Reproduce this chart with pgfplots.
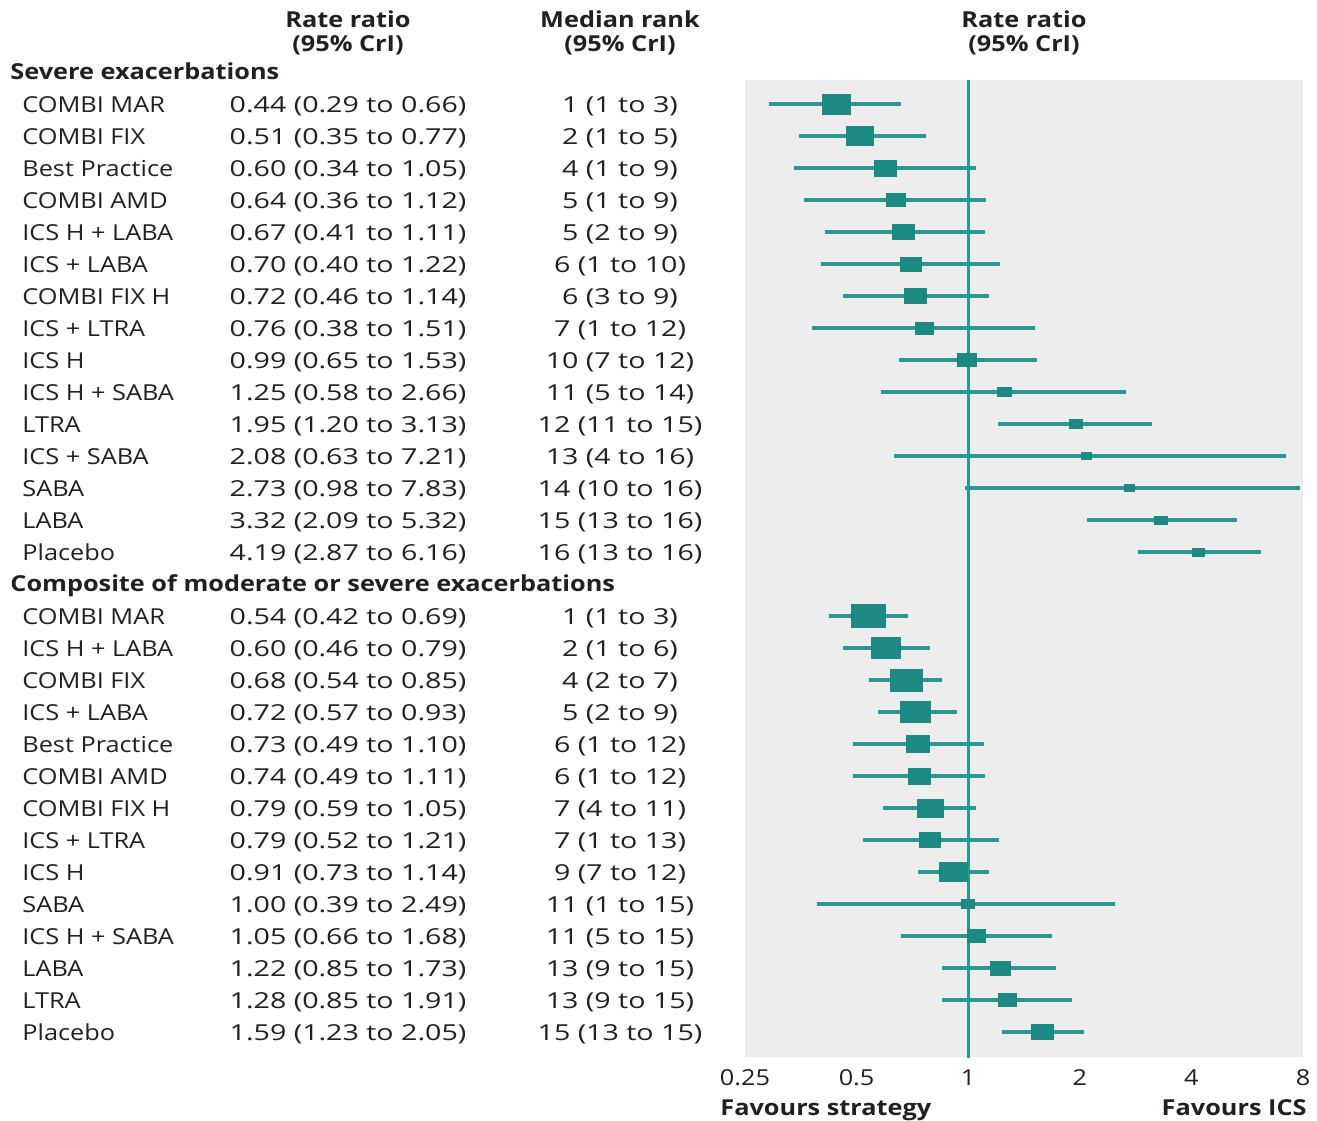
\documentclass[border=0pt]{standalone}
\usepackage{pgfplots}
\pgfplotsset{compat=1.18}
\usepackage{pgfplotstable}
\usepackage{fontspec}
\setmainfont{Open Sans}[FakeStretch=1.15]
\newfontfamily\numfont{Open Sans}[FakeStretch=1.3]
\definecolor{boxc}{HTML}{1C8983}
\definecolor{linec}{HTML}{2A9790}
\definecolor{panel}{HTML}{EDEDED}
\definecolor{txt}{HTML}{231F20}

% y (px, negative), estimate, box width and height (px)
\pgfplotstableread{
y est w h
-104 0.44 28 20
-136 0.51 27 19
-168 0.60 22 16
-200 0.64 19 13
-232 0.67 22 15
-264 0.70 21 14
-296 0.72 22 15
-328 0.76 18 12
-360 0.99 19 13
-392 1.25 14 9
-424 1.95 13 9
-456 2.08 10 7
-488 2.73 10 7
-520 3.32 13 8
-552 4.19 12 8
-616 0.54 34 23
-648 0.60 29 21
-680 0.68 32 22
-712 0.72 30 21
-744 0.73 23 17
-776 0.74 22 16
-808 0.79 26 18
-840 0.79 21 15
-872 0.91 28 19
-904 1.00 13 9
-936 1.05 18 13
-968 1.22 20 14
-1000 1.28 18 13
-1032 1.59 22 15
}\boxdata

\begin{document}
\begin{tikzpicture}[font=\fontsize{11}{13}\selectfont, text=txt]
\begin{scope}[x=0.5pt,y=-0.5pt]
\path[use as bounding box] (0,0) rectangle (1317,1120);
\end{scope}
\begin{axis}[
  at={(372.5pt,-528.5pt)}, anchor=south west,
  scale only axis, width=279pt, height=488.5pt,
  xmode=log, log basis x=2, xmin=0.25, xmax=8,
  ymin=-1057, ymax=-80,
  axis background/.style={fill=panel},
  axis line style={draw=none},
  ytick=\empty,
  xtick={0.25,0.5,1,2,4,8},
  xticklabels={0.25,0.5,1,2,4,8},
  major tick length=0pt,
  xticklabel style={anchor=base, inner sep=0pt, yshift=-14pt, font=\fontsize{11}{13}\selectfont, text=txt},
  /pgf/number format/assume math mode=true,
  clip=false,
]
\addplot[linec, line width=1.5pt] coordinates {(1,-80) (1,-1058)};
\addplot[linec, line width=1.6pt, unbounded coords=jump] coordinates {
(0.29,-104) (0.66,-104) (nan,nan)
(0.35,-136) (0.77,-136) (nan,nan)
(0.34,-168) (1.05,-168) (nan,nan)
(0.36,-200) (1.12,-200) (nan,nan)
(0.41,-232) (1.11,-232) (nan,nan)
(0.40,-264) (1.22,-264) (nan,nan)
(0.46,-296) (1.14,-296) (nan,nan)
(0.38,-328) (1.51,-328) (nan,nan)
(0.65,-360) (1.53,-360) (nan,nan)
(0.58,-392) (2.66,-392) (nan,nan)
(1.20,-424) (3.13,-424) (nan,nan)
(0.63,-456) (7.21,-456) (nan,nan)
(0.98,-488) (7.83,-488) (nan,nan)
(2.09,-520) (5.32,-520) (nan,nan)
(2.87,-552) (6.16,-552) (nan,nan)
(0.42,-616) (0.69,-616) (nan,nan)
(0.46,-648) (0.79,-648) (nan,nan)
(0.54,-680) (0.85,-680) (nan,nan)
(0.57,-712) (0.93,-712) (nan,nan)
(0.49,-744) (1.10,-744) (nan,nan)
(0.49,-776) (1.11,-776) (nan,nan)
(0.59,-808) (1.05,-808) (nan,nan)
(0.52,-840) (1.21,-840) (nan,nan)
(0.73,-872) (1.14,-872) (nan,nan)
(0.39,-904) (2.49,-904) (nan,nan)
(0.66,-936) (1.68,-936) (nan,nan)
(0.85,-968) (1.73,-968) (nan,nan)
(0.85,-1000) (1.91,-1000) (nan,nan)
(1.23,-1032) (2.05,-1032)
};
\addplot[scatter, only marks, mark=square*,
  scatter/use mapped color={draw=boxc,fill=boxc},
  mark options={line width=0pt},
  visualization depends on={\thisrow{h}/4 \as \msize},
  visualization depends on={\thisrow{w}/\thisrow{h} \as \mratio},
  scatter/@pre marker code/.append style={/tikz/mark size=\msize, /tikz/xscale=\mratio},
] table[x=est, y=y] \boxdata;
\end{axis}
\begin{scope}[x=0.5pt,y=-0.5pt]
\node[anchor=base, inner sep=0pt, font=\fontsize{11}{13}\selectfont\bfseries] at (348,27) {Rate ratio};
\node[anchor=base, inner sep=0pt, font=\fontsize{11}{13}\selectfont\bfseries] at (348,51) {(95\% CrI)};
\node[anchor=base, inner sep=0pt, font=\fontsize{11}{13}\selectfont\bfseries] at (620,27) {Median rank};
\node[anchor=base, inner sep=0pt, font=\fontsize{11}{13}\selectfont\bfseries] at (620,51) {(95\% CrI)};
\node[anchor=base, inner sep=0pt, font=\fontsize{11}{13}\selectfont\bfseries] at (1024,27) {Rate ratio};
\node[anchor=base, inner sep=0pt, font=\fontsize{11}{13}\selectfont\bfseries] at (1024,51) {(95\% CrI)};
\node[anchor=base west, inner sep=0pt, font=\fontsize{11}{13}\selectfont\bfseries] at (10,79) {Severe exacerbations};
\node[anchor=base west, inner sep=0pt, font=\fontsize{11}{13}\selectfont\bfseries] at (10,591) {Composite of moderate or severe exacerbations};
\node[anchor=base west, inner sep=0pt, font=\fontsize{11}{13}\selectfont\bfseries] at (720,1115) {Favours strategy};
\node[anchor=base east, inner sep=0pt, font=\fontsize{11}{13}\selectfont\bfseries] at (1307,1115) {Favours ICS};
\foreach \yy/\nm/\rr/\rk in {
104/COMBI MAR/0.44 (0.29 to 0.66)/1 (1 to 3),
136/COMBI FIX/0.51 (0.35 to 0.77)/2 (1 to 5),
168/Best Practice/0.60 (0.34 to 1.05)/4 (1 to 9),
200/COMBI AMD/0.64 (0.36 to 1.12)/5 (1 to 9),
232/ICS H + LABA/0.67 (0.41 to 1.11)/5 (2 to 9),
264/ICS + LABA/0.70 (0.40 to 1.22)/6 (1 to 10),
296/COMBI FIX H/0.72 (0.46 to 1.14)/6 (3 to 9),
328/ICS + LTRA/0.76 (0.38 to 1.51)/7 (1 to 12),
360/ICS H/0.99 (0.65 to 1.53)/10 (7 to 12),
392/ICS H + SABA/1.25 (0.58 to 2.66)/11 (5 to 14),
424/LTRA/1.95 (1.20 to 3.13)/12 (11 to 15),
456/ICS + SABA/2.08 (0.63 to 7.21)/13 (4 to 16),
488/SABA/2.73 (0.98 to 7.83)/14 (10 to 16),
520/LABA/3.32 (2.09 to 5.32)/15 (13 to 16),
552/Placebo/4.19 (2.87 to 6.16)/16 (13 to 16),
616/COMBI MAR/0.54 (0.42 to 0.69)/1 (1 to 3),
648/ICS H + LABA/0.60 (0.46 to 0.79)/2 (1 to 6),
680/COMBI FIX/0.68 (0.54 to 0.85)/4 (2 to 7),
712/ICS + LABA/0.72 (0.57 to 0.93)/5 (2 to 9),
744/Best Practice/0.73 (0.49 to 1.10)/6 (1 to 12),
776/COMBI AMD/0.74 (0.49 to 1.11)/6 (1 to 12),
808/COMBI FIX H/0.79 (0.59 to 1.05)/7 (4 to 11),
840/ICS + LTRA/0.79 (0.52 to 1.21)/7 (1 to 13),
872/ICS H/0.91 (0.73 to 1.14)/9 (7 to 12),
904/SABA/1.00 (0.39 to 2.49)/11 (1 to 15),
936/ICS H + SABA/1.05 (0.66 to 1.68)/11 (5 to 15),
968/LABA/1.22 (0.85 to 1.73)/13 (9 to 15),
1000/LTRA/1.28 (0.85 to 1.91)/13 (9 to 15),
1032/Placebo/1.59 (1.23 to 2.05)/15 (13 to 15)}{
  \node[anchor=base west, inner sep=0pt] at (22,\yy+8) {\nm};
  \node[anchor=base, inner sep=0pt, font=\fontsize{11}{13}\numfont] at (348,\yy+8) {\rr};
  \node[anchor=base, inner sep=0pt, font=\fontsize{11}{13}\numfont] at (620,\yy+8) {\rk};
}
\end{scope}
\end{tikzpicture}
\end{document}
